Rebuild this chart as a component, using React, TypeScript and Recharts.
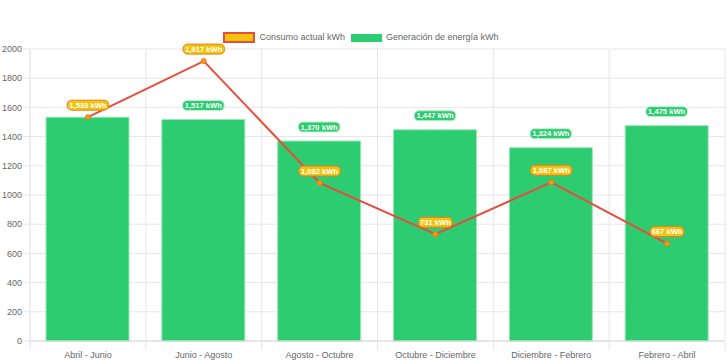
import { ComposedChart, Bar, Line, XAxis, YAxis, CartesianGrid, LabelList } from "recharts";

const periods = [
  "Abril - Junio",
  "Junio - Agosto",
  "Agosto - Octubre",
  "Octubre - Diciembre",
  "Diciembre - Febrero",
  "Febrero - Abril",
];
const consumo = [1533, 1917, 1082, 731, 1087, 667];
const generacion = [1533, 1517, 1370, 1447, 1324, 1475];
const yTicks = [0, 200, 400, 600, 800, 1000, 1200, 1400, 1600, 1800, 2000];

const data = periods.map((periodo, i) => ({
  periodo,
  consumo: consumo[i],
  generacion: generacion[i],
}));

const FONT = "Liberation Sans, Arial, sans-serif";
const fmt = (v: number) => `${v.toLocaleString("en-US")} kWh`;

function pill(fill: string, stroke: string, gap: number, hideIfCovered = false) {
  return (props: any) => {
    const { x, y, width, value, index } = props;
    if (value == null) return null;
    // the consumption label is drawn over it in the reference
    if (hideIfCovered && Math.abs(consumo[index] - Number(value)) < 60) return null;
    const text = fmt(Number(value));
    const w = text.length * 3.85 + 7;
    const h = 10;
    const cx = Number(x) + (Number(width) || 0) / 2;
    const cy = Number(y) - gap;
    return (
      <g>
        <rect
          x={cx - w / 2}
          y={cy - h / 2}
          width={w}
          height={h}
          rx={4.5}
          ry={4.5}
          fill={fill}
          stroke={stroke}
          strokeWidth={1}
        />
        <text
          x={cx}
          y={cy + 2.7}
          textAnchor="middle"
          fill="#fff"
          fontSize={7.6}
          fontWeight="bold"
          fontFamily={FONT}
        >
          {text}
        </text>
      </g>
    );
  };
}

// category label plus the little grid ticks between categories
function XTick(props: any) {
  const { x, y, payload, index } = props;
  const half = Number(payload?.offset) || 0;
  const top = y - 6;
  return (
    <g>
      {half > 0 && (
        <line x1={x - half} x2={x - half} y1={top} y2={top + 9} stroke="#e6e6e6" />
      )}
      {half > 0 && index === periods.length - 1 && (
        <line x1={x + half} x2={x + half} y1={top} y2={top + 9} stroke="#e6e6e6" />
      )}
      <text x={x} y={top + 17} textAnchor="middle" fill="#666" fontSize={9} fontFamily={FONT}>
        {payload.value}
      </text>
    </g>
  );
}

function LegendBox() {
  const item = { display: "flex", alignItems: "center", marginRight: 6 } as const;
  return (
    <div
      style={{
        position: "absolute",
        top: 31,
        left: 0,
        width: 728,
        height: 12,
        display: "flex",
        justifyContent: "center",
        fontFamily: FONT,
        fontSize: 9,
        lineHeight: "12px",
        color: "#666",
      }}
    >
      <div style={item}>
        <span
          style={{
            width: 28,
            height: 7,
            background: "#f1c40f",
            border: "2px solid #e74c3c",
            marginRight: 4,
          }}
        />
        Consumo actual kWh
      </div>
      <div style={item}>
        <span style={{ width: 31, height: 8, background: "#2ecc71", marginRight: 4, marginTop: 2 }} />
        Generación de energía kWh
      </div>
    </div>
  );
}

export default function App() {
  return (
    <div
      style={{
        position: "absolute",
        left: 0,
        top: 0,
        width: 728,
        height: 363,
        background: "#fff",
        fontFamily: FONT,
      }}
    >
      <LegendBox />
      <ComposedChart
        width={728}
        height={363}
        data={data}
        margin={{ top: 49, right: 3, bottom: 0, left: 0 }}
      >
        <CartesianGrid
          stroke="#e6e6e6"
          verticalCoordinatesGenerator={({ offset }: any) => {
            const step = offset.width / periods.length;
            return periods.map((_, i) => offset.left + i * step).concat(offset.left + offset.width);
          }}
        />
        <XAxis
          dataKey="periodo"
          height={22}
          tickLine={false}
          axisLine={{ stroke: "#d9d9d9" }}
          tick={<XTick />}
          tickSize={6}
          tickMargin={0}
          interval={0}
        />
        <YAxis
          width={30}
          domain={[0, 2000]}
          ticks={yTicks}
          tickLine={{ stroke: "#e6e6e6" }}
          axisLine={{ stroke: "#e6e6e6" }}
          tickSize={7}
          tickMargin={1}
          tick={{ fontSize: 9, fill: "#666" }}
        />
        <Bar
          dataKey="generacion"
          fill="#2ecc71"
          stroke="#9be6b9"
          strokeWidth={1}
          barSize={83}
          isAnimationActive={false}
        >
          <LabelList dataKey="generacion" content={pill("#2ecc71", "#bff0d2", 14, true)} />
        </Bar>
        <Line
          dataKey="consumo"
          stroke="#e74c3c"
          strokeWidth={2}
          dot={{ r: 2.5, fill: "#f39c12", stroke: "#e67e22", strokeWidth: 1 }}
          isAnimationActive={false}
        >
          <LabelList dataKey="consumo" content={pill("#f1c40f", "#e67e22", 12)} />
        </Line>
      </ComposedChart>
    </div>
  );
}
